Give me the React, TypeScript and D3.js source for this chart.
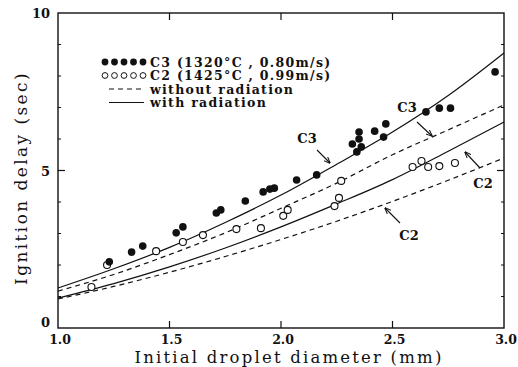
import React from "react";
import * as d3 from "d3";

// measured points, C3 (filled) and C2 (open)
const c3Diam = [1.23, 1.33, 1.38, 1.53, 1.56, 1.71, 1.73, 1.84, 1.92, 1.95, 1.97, 2.07, 2.16, 2.32, 2.34, 2.35, 2.35, 2.36, 2.42, 2.46, 2.47, 2.65, 2.71, 2.76, 2.96];
const c3Delay = [2.1, 2.41, 2.6, 3.02, 3.21, 3.65, 3.75, 4.03, 4.32, 4.41, 4.44, 4.7, 4.86, 5.84, 5.59, 6.0, 6.22, 5.75, 6.25, 6.06, 6.48, 6.86, 6.98, 6.98, 8.13];

const c2Diam = [1.15, 1.22, 1.44, 1.56, 1.65, 1.8, 1.91, 2.01, 2.03, 2.24, 2.26, 2.27, 2.59, 2.63, 2.66, 2.71, 2.78];
const c2Delay = [1.3, 2.0, 2.44, 2.73, 2.95, 3.14, 3.17, 3.56, 3.75, 3.87, 4.13, 4.67, 5.11, 5.3, 5.11, 5.14, 5.24];

// model curves
const curveDiam = [1.0, 1.25, 1.5, 1.75, 2.0, 2.25, 2.5, 2.75, 3.0];
const c3WithRad = [1.27, 1.88, 2.56, 3.35, 4.22, 5.2, 6.22, 7.38, 8.73];
const c3NoRad = [1.17, 1.7, 2.33, 3.02, 3.8, 4.6, 5.5, 6.29, 7.08];
const c2WithRad = [0.95, 1.41, 1.94, 2.54, 3.21, 3.94, 4.71, 5.61, 6.54];
const c2NoRad = [0.92, 1.32, 1.77, 2.27, 2.81, 3.39, 4.02, 4.69, 5.4];

const xTicks = [1.0, 1.5, 2.0, 2.5, 3.0];
const yTicks = [0, 5, 10];
const yMinor = [1, 2, 3, 4, 6, 7, 8, 9];

const legendRows = ["C3 (1320°C , 0.80m/s)", "C2 (1425°C , 0.99m/s)", "without radiation", "with radiation"];

const W = 518;
const H = 367;
const m = { top: 13, right: 14, bottom: 39, left: 58 };
const serif = "'DejaVu Serif', 'Liberation Serif', serif";

export default function App() {
  const x = d3.scaleLinear().domain([1, 3]).range([m.left, W - m.right]);
  const y = d3.scaleLinear().domain([0, 10]).range([H - m.bottom, m.top]);

  const line = d3
    .line<[number, number]>()
    .x((d) => x(d[0]))
    .y((d) => y(d[1]))
    .curve(d3.curveMonotoneX);

  const curves = [
    { vals: c3WithRad, dash: "" },
    { vals: c3NoRad, dash: "5,4" },
    { vals: c2WithRad, dash: "" },
    { vals: c2NoRad, dash: "5,4" },
  ];

  const x0 = x.range()[0];
  const x1 = x.range()[1];
  const y0 = y.range()[0];
  const y1 = y.range()[1];

  const legX = 105;
  const legY = 62;
  const rowH = 13.5;

  return (
    <svg width={W} height={H} style={{ position: "absolute", left: 0, top: 0, background: "#fff" }}>
      <rect x={0} y={0} width={W} height={H} fill="#fff" />
      {/* frame */}
      <rect x={x0} y={y1} width={x1 - x0} height={y0 - y1} fill="none" stroke="#111" strokeWidth={1.4} />

      {/* ticks */}
      {xTicks.slice(1, -1).map((t) => (
        <g key={"xt" + t}>
          <line x1={x(t)} x2={x(t)} y1={y0} y2={y0 - 7} stroke="#111" strokeWidth={1.2} />
          <line x1={x(t)} x2={x(t)} y1={y1} y2={y1 + 7} stroke="#111" strokeWidth={1.2} />
        </g>
      ))}
      {yTicks.slice(1, -1).map((t) => (
        <g key={"yt" + t}>
          <line x1={x0} x2={x0 + 7} y1={y(t)} y2={y(t)} stroke="#111" strokeWidth={1.2} />
          <line x1={x1} x2={x1 - 7} y1={y(t)} y2={y(t)} stroke="#111" strokeWidth={1.2} />
        </g>
      ))}
      {yMinor.map((t) => (
        <g key={"ym" + t}>
          <line x1={x0} x2={x0 + 3} y1={y(t)} y2={y(t)} stroke="#111" strokeWidth={1} />
          <line x1={x1} x2={x1 - 3} y1={y(t)} y2={y(t)} stroke="#111" strokeWidth={1} />
        </g>
      ))}

      {/* tick labels */}
      {xTicks.map((t) => (
        <text key={"xl" + t} x={x(t) + 2} y={y0 + 16} textAnchor="middle" fontFamily={serif} fontWeight="bold" fontSize={12.5} fill="#111">
          {t.toFixed(1)}
        </text>
      ))}
      {yTicks.map((t) => (
        <text key={"yl" + t} x={x0 - 8} y={t === 0 ? y(t) - 1 : y(t) + 5} textAnchor="end" fontFamily={serif} fontWeight="bold" fontSize={13} fill="#111">
          {t}
        </text>
      ))}

      {/* axis titles */}
      <text x={289} y={363} textAnchor="middle" fontFamily={serif} fontSize={16.5} letterSpacing={2.2} fill="#111">
        Initial droplet diameter (mm)
      </text>
      <text transform={`translate(27,${178}) rotate(-90)`} textAnchor="middle" fontFamily={serif} fontSize={17} letterSpacing={2.4} fill="#111">
        Ignition delay (sec)
      </text>

      {/* curves */}
      {curves.map((c, i) => (
        <path
          key={"c" + i}
          d={line(curveDiam.map((d, j) => [d, c.vals[j]] as [number, number])) || ""}
          fill="none"
          stroke="#111"
          strokeWidth={1.2}
          strokeDasharray={c.dash}
        />
      ))}

      {/* data points */}
      {c2Diam.map((d, i) => (
        <circle key={"o" + i} cx={x(d)} cy={y(c2Delay[i])} r={3.5} fill="#fff" stroke="#111" strokeWidth={1.1} />
      ))}
      {c3Diam.map((d, i) => (
        <circle key={"f" + i} cx={x(d)} cy={y(c3Delay[i])} r={3.8} fill="#111" />
      ))}

      {/* curve annotations */}
      <g fontFamily={serif} fontWeight="bold" fontSize={13} fill="#111">
        <text x={307} y={143} textAnchor="middle">C3</text>
        <text x={407} y={112} textAnchor="middle">C3</text>
        <text x={483} y={188} textAnchor="middle">C2</text>
        <text x={409} y={240} textAnchor="middle">C2</text>
      </g>
      <defs>
        <marker id="ah" viewBox="0 0 10 10" refX="9" refY="5" markerWidth={6} markerHeight={6} orient="auto">
          <path d="M0,1 L10,5 L0,9" fill="none" stroke="#111" strokeWidth={1.5} />
        </marker>
      </defs>
      <g stroke="#111" strokeWidth={1.1} markerEnd="url(#ah)">
        <line x1={317} y1={150} x2={330} y2={163} />
        <line x1={417} y1={122} x2={432} y2={136} />
        <line x1={480} y1={168} x2={465} y2={152} />
        <line x1={400} y1={223} x2={385} y2={208} />
      </g>

      {/* legend */}
      <g>
        {[0, 1, 2, 3, 4].map((k) => (
          <circle key={"lf" + k} cx={legX + k * 9.5} cy={legY} r={3.4} fill="#111" />
        ))}
        {[0, 1, 2, 3, 4].map((k) => (
          <circle key={"lo" + k} cx={legX + k * 9.5} cy={legY + rowH} r={2.9} fill="#fff" stroke="#111" strokeWidth={1} />
        ))}
        <line x1={109} x2={144} y1={legY + rowH * 2} y2={legY + rowH * 2} stroke="#111" strokeWidth={1.1} strokeDasharray="5,4" />
        <line x1={109} x2={144} y1={legY + rowH * 3} y2={legY + rowH * 3} stroke="#111" strokeWidth={1.1} />
        {legendRows.map((t, i) => (
          <text key={"lt" + i} x={150} y={legY + rowH * i + 4.5} fontFamily={serif} fontWeight="bold" fontSize={12.5} letterSpacing={1.3} fill="#111">
            {t}
          </text>
        ))}
      </g>
    </svg>
  );
}
